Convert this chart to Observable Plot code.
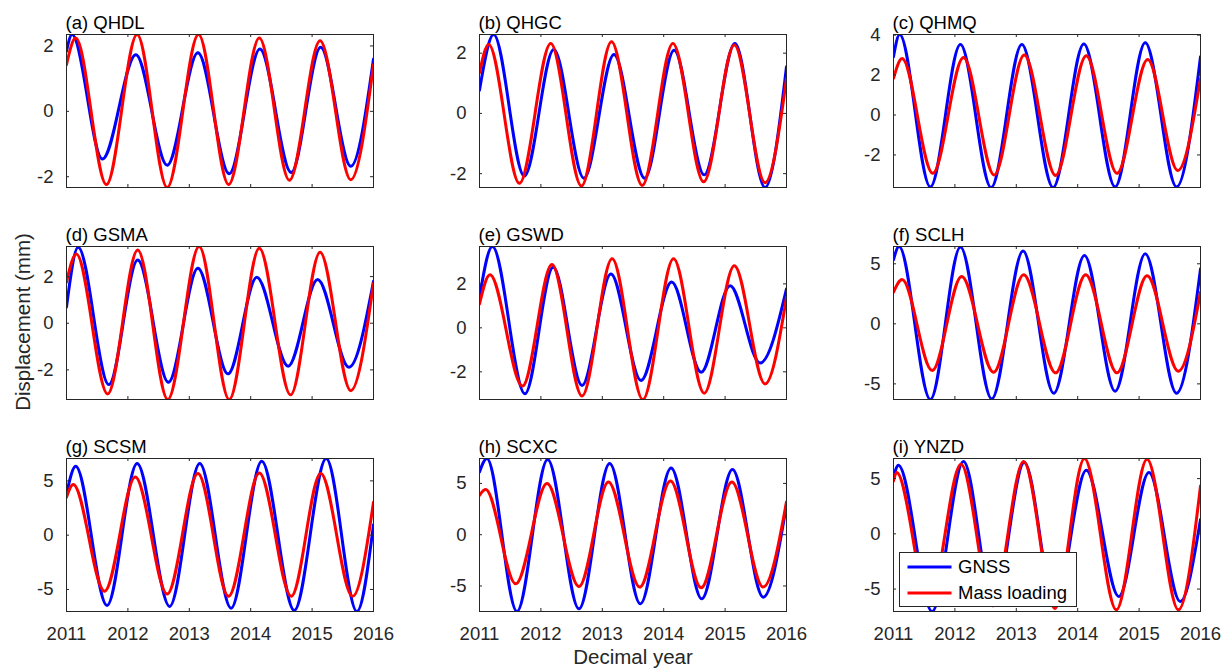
<!DOCTYPE html>
<html>
<head>
<meta charset="utf-8">
<script src="https://cdn.jsdelivr.net/npm/d3@7"></script>
<script src="https://cdn.jsdelivr.net/npm/@observablehq/plot@0.6"></script>
<style>
  html, body { margin: 0; padding: 0; background: #fff; }
  #fig { position: relative; width: 1225px; height: 671px; overflow: hidden;
         font-family: "Liberation Sans", Arial, sans-serif; }
  #fig > .panel { position: absolute; }
  #fig > svg.overlay { position: absolute; left: 0; top: 0; pointer-events: none; }
</style>
</head>
<body>
<div id="fig"></div>
<script>
// Seasonal vertical displacement at nine stations, 2011–2016:
// GNSS-observed vs. predicted from surface mass loading.
// Each series is given by its turning points (annual peaks and troughs)
// plus the values at the two ends of the record.

const panelTitles = ["(a) QHDL", "(b) QHGC", "(c) QHMQ",
                     "(d) GSMA", "(e) GSWD", "(f) SCLH",
                     "(g) SCSM", "(h) SCXC", "(i) YNZD"];

const xTicks = [2011, 2012, 2013, 2014, 2015, 2016];

const yTicks = [[-2, 0, 2], [-2, 0, 2], [-2, 0, 2, 4],
                [-2, 0, 2], [-2, 0, 2], [-5, 0, 5],
                [-5, 0, 5], [-5, 0, 5], [-5, 0, 5]];

// GNSS: decimal years and displacement (mm)
const gnssTime = [
  [2011, 2011.09, 2011.585, 2012.13, 2012.64, 2013.14, 2013.65, 2014.15, 2014.66, 2015.14, 2015.63, 2016],
  [2011, 2011.23, 2011.73, 2012.21, 2012.70, 2013.19, 2013.69, 2014.17, 2014.66, 2015.16, 2015.65, 2016],
  [2011, 2011.10, 2011.60, 2012.09, 2012.59, 2013.09, 2013.60, 2014.10, 2014.61, 2015.10, 2015.61, 2016],
  [2011, 2011.19, 2011.69, 2012.16, 2012.66, 2013.14, 2013.63, 2014.10, 2014.61, 2015.09, 2015.60, 2016],
  [2011, 2011.21, 2011.74, 2012.20, 2012.67, 2013.14, 2013.63, 2014.13, 2014.61, 2015.08, 2015.57, 2016],
  [2011, 2011.09, 2011.60, 2012.09, 2012.60, 2013.11, 2013.61, 2014.11, 2014.61, 2015.10, 2015.61, 2016],
  [2011, 2011.15, 2011.66, 2012.15, 2012.68, 2013.17, 2013.68, 2014.18, 2014.71, 2015.23, 2015.73, 2016],
  [2011, 2011.12, 2011.61, 2012.11, 2012.62, 2013.12, 2013.62, 2014.12, 2014.62, 2015.12, 2015.62, 2016],
  [2011, 2011.08, 2011.63, 2012.14, 2012.63, 2013.13, 2013.63, 2014.14, 2014.67, 2015.16, 2015.67, 2016]
];
const gnssDisp = [
  [1.84, 2.35, -1.46, 1.73, -1.65, 1.79, -1.91, 1.91, -1.87, 1.96, -1.68, 1.60],
  [0.77, 2.62, -2.08, 2.12, -2.15, 1.96, -2.15, 2.10, -2.04, 2.32, -2.46, 1.55],
  [2.92, 4.03, -3.60, 3.53, -3.63, 3.53, -3.63, 3.55, -3.60, 3.62, -3.60, 2.92],
  [0.69, 3.26, -2.63, 2.71, -2.53, 2.36, -2.17, 1.97, -1.84, 1.87, -1.89, 1.80],
  [1.40, 3.70, -3.00, 2.76, -2.62, 2.45, -2.39, 2.08, -2.02, 1.92, -1.60, 1.77],
  [5.33, 6.44, -6.30, 6.39, -6.25, 6.06, -5.78, 5.69, -5.61, 5.83, -5.78, 4.58],
  [3.80, 6.35, -6.47, 6.60, -6.56, 6.60, -6.72, 6.81, -6.93, 7.06, -7.03, 0.96],
  [6.12, 7.43, -7.49, 7.33, -7.23, 6.94, -6.74, 6.51, -6.25, 6.35, -6.09, 2.90],
  [5.10, 6.21, -7.03, 6.55, -6.50, 6.45, -6.45, 5.76, -5.67, 5.55, -6.12, 1.30]
];

// Mass loading: decimal years and displacement (mm)
const loadTime = [
  [2011, 2011.15, 2011.65, 2012.15, 2012.64, 2013.15, 2013.64, 2014.14, 2014.63, 2015.13, 2015.63, 2016],
  [2011, 2011.15, 2011.65, 2012.16, 2012.66, 2013.15, 2013.65, 2014.15, 2014.65, 2015.15, 2015.65, 2016],
  [2011, 2011.14, 2011.64, 2012.14, 2012.64, 2013.13, 2013.64, 2014.14, 2014.64, 2015.14, 2015.63, 2016],
  [2011, 2011.16, 2011.67, 2012.16, 2012.65, 2013.16, 2013.65, 2014.14, 2014.65, 2015.13, 2015.63, 2016],
  [2011, 2011.17, 2011.70, 2012.18, 2012.67, 2013.16, 2013.66, 2014.16, 2014.66, 2015.15, 2015.65, 2016],
  [2011, 2011.14, 2011.63, 2012.11, 2012.63, 2013.12, 2013.64, 2014.13, 2014.64, 2015.13, 2015.64, 2016],
  [2011, 2011.11, 2011.62, 2012.12, 2012.64, 2013.14, 2013.64, 2014.14, 2014.66, 2015.14, 2015.66, 2016],
  [2011, 2011.10, 2011.59, 2012.10, 2012.62, 2013.10, 2013.61, 2014.11, 2014.61, 2015.11, 2015.62, 2016],
  [2011, 2011.05, 2011.58, 2012.10, 2012.61, 2013.12, 2013.63, 2014.11, 2014.63, 2015.13, 2015.64, 2016]
];
const loadDisp = [
  [1.43, 2.24, -2.24, 2.35, -2.33, 2.35, -2.24, 2.24, -2.11, 2.16, -2.09, 1.43],
  [1.35, 2.29, -2.32, 2.32, -2.41, 2.38, -2.39, 2.32, -2.27, 2.27, -2.30, 1.15],
  [1.83, 2.83, -2.92, 2.88, -3.00, 3.00, -3.03, 2.97, -2.92, 2.78, -2.78, 1.83],
  [1.76, 2.97, -3.03, 3.14, -3.27, 3.29, -3.27, 3.21, -3.07, 3.04, -2.89, 1.72],
  [1.09, 2.42, -2.65, 2.88, -3.10, 3.14, -3.26, 3.14, -2.97, 2.83, -2.55, 1.39],
  [2.64, 3.69, -3.89, 3.94, -4.03, 4.08, -4.08, 4.08, -4.08, 4.00, -3.94, 2.64],
  [3.50, 4.67, -5.17, 5.36, -5.42, 5.67, -5.63, 5.73, -5.63, 5.67, -5.63, 3.03],
  [3.84, 4.40, -4.79, 4.98, -5.05, 5.15, -5.11, 5.24, -5.18, 5.15, -5.11, 3.20],
  [4.79, 5.55, -6.30, 6.30, -6.50, 6.55, -6.75, 6.82, -6.88, 6.76, -6.88, 4.33]
];

const seriesNames = ["GNSS", "Mass loading"];
const seriesColors = ["#0000ff", "#ff0000"];

// Layout of the 3 x 3 grid (plot-area boxes)
const frameW = 307, frameH = 153;
const colX = [66, 479, 893];
const rowY = [34, 246, 458];
const m = {left: 60, right: 12, top: 36, bottom: 44};
const tickLen = 3;
const ink = "#262626";
const fontFamily = '"Liberation Sans", Arial, sans-serif';

const fig = document.getElementById("fig");

panelTitles.forEach((title, i) => {
  const row = Math.floor(i / 3), col = i % 3;
  const gnss = gnssTime[i].map((t, k) => ({t, v: gnssDisp[i][k]}));
  const load = loadTime[i].map((t, k) => ({t, v: loadDisp[i][k]}));
  const yDomain = d3.extent([...gnss, ...load], d => d.v);
  const bottomRow = row === 2;

  const marks = [
    Plot.line(gnss, {x: "t", y: "v", stroke: seriesColors[0], strokeWidth: 3,
                     curve: "monotone-x", clip: true}),
    Plot.line(load, {x: "t", y: "v", stroke: seriesColors[1], strokeWidth: 3,
                     curve: "monotone-x", clip: true}),
    Plot.frame({stroke: ink, strokeWidth: 1}),
    // inward ticks on all four sides
    Plot.tickY(yTicks[i], {y: d => d, stroke: ink, insetRight: frameW - tickLen}),
    Plot.tickY(yTicks[i], {y: d => d, stroke: ink, insetLeft: frameW - tickLen}),
    Plot.tickX(xTicks, {x: d => d, stroke: ink, insetTop: frameH - tickLen}),
    Plot.tickX(xTicks, {x: d => d, stroke: ink, insetBottom: frameH - tickLen}),
    Plot.axisY(yTicks[i], {tickSize: 0, tickPadding: 13, label: null,
                           tickFormat: d => String(d), fill: ink}),
    Plot.text([title], {frameAnchor: "top-left", text: d => d, textAnchor: "start",
                        lineAnchor: "bottom", dx: -1, dy: -6, fill: "#000"})
  ];
  if (bottomRow) {
    marks.push(Plot.axisX(xTicks, {tickSize: 0, tickPadding: 15, label: null,
                                   tickFormat: d => String(d), fill: ink}));
  }

  const chart = Plot.plot({
    width: frameW + m.left + m.right,
    height: frameH + m.top + m.bottom,
    marginLeft: m.left, marginRight: m.right,
    marginTop: m.top, marginBottom: m.bottom,
    x: {domain: [2011, 2016], axis: null},
    y: {domain: yDomain, axis: null},
    style: {fontFamily, fontSize: "18.5px", color: ink, background: "transparent", overflow: "visible"},
    marks
  });

  const holder = document.createElement("div");
  holder.className = "panel";
  holder.style.left = (colX[col] - m.left) + "px";
  holder.style.top = (rowY[row] - m.top) + "px";
  holder.appendChild(chart);
  fig.appendChild(holder);
});

// Shared axis titles and the legend drawn over panel (i)
const overlay = d3.create("svg")
  .attr("class", "overlay")
  .attr("width", 1225).attr("height", 671)
  .style("font-family", fontFamily);

overlay.append("text")
  .attr("transform", "translate(23,322) rotate(-90)")
  .attr("text-anchor", "middle").attr("dy", "0.35em")
  .attr("font-size", 20.5).attr("fill", ink)
  .text("Displacement (mm)");

overlay.append("text")
  .attr("x", 633).attr("y", 664)
  .attr("text-anchor", "middle")
  .attr("font-size", 20.5).attr("fill", ink)
  .text("Decimal year");

const lg = overlay.append("g").attr("transform", "translate(899.5,552.5)");
lg.append("rect").attr("width", 177).attr("height", 54)
  .attr("fill", "#fff").attr("stroke", ink).attr("stroke-width", 1);
seriesNames.forEach((name, k) => {
  const y = 14.5 + k * 26;
  lg.append("line").attr("x1", 8).attr("x2", 52).attr("y1", y).attr("y2", y)
    .attr("stroke", seriesColors[k]).attr("stroke-width", 3);
  lg.append("text").attr("x", 58.5).attr("y", y).attr("dy", "0.35em")
    .attr("font-size", 18.5).attr("fill", "#000").text(name);
});

fig.appendChild(overlay.node());
</script>
</body>
</html>
